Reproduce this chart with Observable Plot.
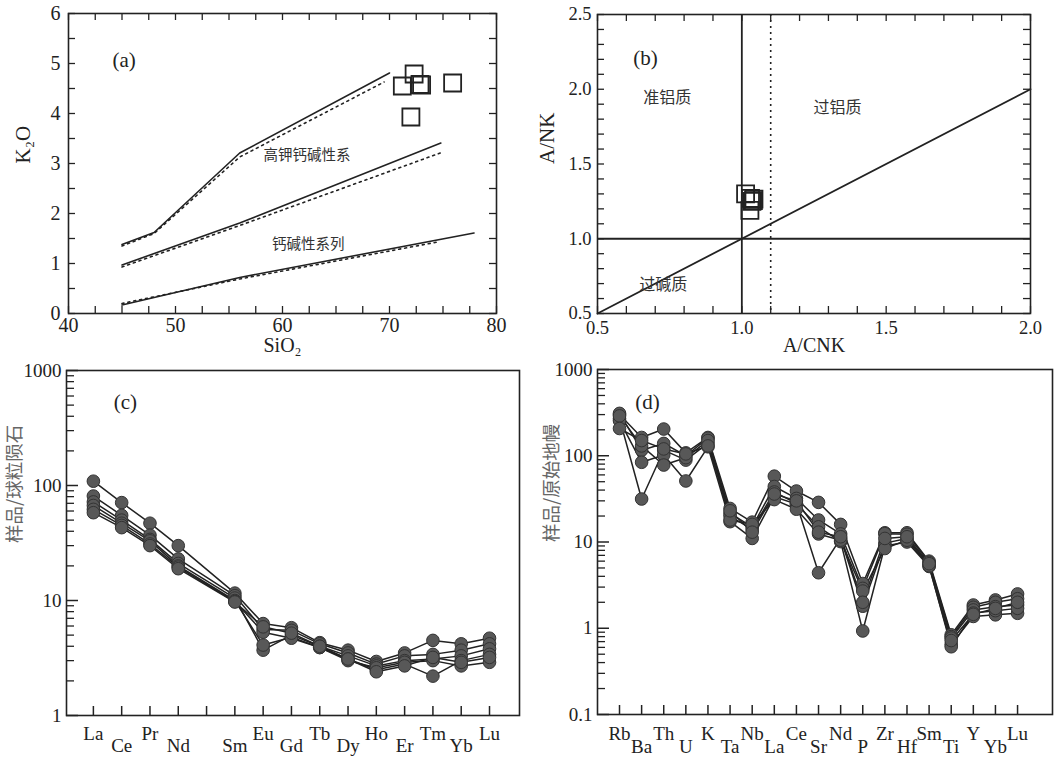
<!DOCTYPE html>
<html><head><meta charset="utf-8">
<script src="https://cdn.jsdelivr.net/npm/d3@7"></script>
<script src="https://cdn.jsdelivr.net/npm/@observablehq/plot@0.6"></script>
<style>
body{margin:0;background:#fff;}
#wrap{position:relative;width:1056px;height:757px;overflow:hidden;background:#fff;}
#wrap > svg{position:absolute;overflow:visible;}
</style></head><body><div id="wrap"></div>
<script>
// ---------- data ----------
// (a) SiO2 - K2O
const sampleSiO2 = [71.2, 72.3, 72.85, 73.0, 75.9, 72.0];
const sampleK2O  = [4.55, 4.79, 4.58, 4.57, 4.61, 3.93];
const hkSolid  = [[45,1.38],[48,1.62],[56,3.21],[70,4.81]];
const hkDotted = [[45,1.35],[48,1.60],[56,3.13],[69.5,4.63]];
const caSolid  = [[45,0.97],[56,1.81],[74.8,3.41]];
const caDotted = [[45,0.93],[56,1.76],[75,3.23]];
const lowSolid  = [[45,0.17],[56,0.72],[77.9,1.61]];
const lowDotted = [[45,0.20],[56,0.69],[74.5,1.43]];
// (b) A/CNK - A/NK
const sampleACNK = [1.013, 1.030, 1.035, 1.042, 1.040, 1.028];
const sampleANK  = [1.30, 1.27, 1.25, 1.265, 1.255, 1.19];
const diagLine = [[0.5,0.5],[2.0,2.0]];
// (c) REE chondrite-normalised
const reeAxis = ["La","Ce","Pr","Nd","Pm","Sm","Eu","Gd","Tb","Dy","Ho","Er","Tm","Yb","Lu"];
const reeElements = ["La","Ce","Pr","Nd","Sm","Eu","Gd","Tb","Dy","Ho","Er","Tm","Yb","Lu"];
const reeS1 = [109, 71, 47, 30, 11.6, 6.3, 5.8, 4.3, 3.7, 2.95, 3.5, 4.5, 4.2, 4.7];
const reeS2 = [81, 55, 37, 23, 11.0, 5.6, 5.5, 4.2, 3.5, 2.8, 3.3, 3.4, 3.7, 4.2];
const reeS3 = [72, 50, 34, 21, 10.5, 3.7, 5.0, 4.0, 3.3, 2.7, 3.0, 3.1, 3.3, 3.8];
const reeS4 = [67, 47, 33, 20, 10.0, 4.1, 4.8, 3.9, 3.1, 2.5, 2.8, 2.2, 3.0, 3.4];
const reeS5 = [62, 45, 31, 19.5, 9.8, 5.3, 4.7, 3.9, 3.0, 2.6, 2.9, 3.0, 2.7, 2.9];
const reeS6 = [58, 43, 30, 18.9, 9.7, 5.9, 5.2, 4.0, 3.1, 2.4, 2.7, 3.2, 2.9, 3.2];
// (d) primitive-mantle-normalised spidergram
const spiderElements = ["Rb","Ba","Th","U","K","Ta","Nb","La","Ce","Sr","Nd","P","Zr","Hf","Sm","Ti","Y","Yb","Lu"];
const spS1 = [300, 163, 204, 108, 163, 24.5, 17, 58, 39, 28.8, 16, 3.3, 12.8, 12.8, 6.0, 0.84, 1.86, 2.13, 2.5];
const spS2 = [310, 116, 139, 100, 160, 21.5, 15, 44, 32, 18, 12.4, 2.9, 12.5, 12.3, 5.8, 0.80, 1.75, 2.0, 2.2];
const spS3 = [270, 31.5, 116, 89, 140, 20, 14, 38, 28, 4.4, 11, 1.8, 9.7, 11, 5.5, 0.77, 1.63, 1.78, 1.86];
const spS4 = [255, 84, 102, 51, 127, 17.2, 11, 33.5, 27.5, 15, 10.1, 0.93, 9, 10, 5.2, 0.65, 1.37, 1.43, 1.49];
const spS5 = [290, 130, 78, 95, 150, 18, 16, 31, 24, 12.4, 10.5, 2.7, 8.4, 10.5, 5.3, 0.61, 1.5, 1.6, 1.7];
const spS6 = [207, 150, 120, 105, 130, 23, 13, 36, 30, 13, 11.5, 2.0, 11, 11.5, 5.6, 0.72, 1.45, 1.7, 2.0];

// ---------- helpers ----------
const FONT = '"Liberation Serif","Noto Sans CJK SC",serif';
const CJK = '"Noto Sans CJK SC","Liberation Serif",sans-serif';
const INK = "#222";
const wrap = document.getElementById("wrap");
function place(svg, left, top){ svg.style.left = left + "px"; svg.style.top = top + "px"; wrap.appendChild(svg); }
function tickBottom(vals, len, fh, sw=1.3){ return Plot.tickX(vals, {x: d => d, insetTop: fh - len, stroke: INK, strokeWidth: sw}); }
function tickTop(vals, len, fh, sw=1.3){ return Plot.tickX(vals, {x: d => d, insetBottom: fh - len, stroke: INK, strokeWidth: sw}); }
function tickLeft(vals, len, fw, sw=1.3){ return Plot.tickY(vals, {y: d => d, insetRight: fw - len, stroke: INK, strokeWidth: sw}); }
function tickRight(vals, len, fw, sw=1.3){ return Plot.tickY(vals, {y: d => d, insetLeft: fw - len, stroke: INK, strokeWidth: sw}); }
const styleBase = {fontFamily: FONT, fontSize: "19px", color: INK, background: "transparent", overflow: "visible"};
function logMinor(lo, hi){ const out=[]; for(let d=lo; d<hi; d*=10){ for(let k=2;k<=9;k++) out.push(+(k*d).toPrecision(3)); } return out; }
function longForm(elements, samples, axis){
  const rows = [];
  samples.forEach((s, si) => s.forEach((v, i) => rows.push({sample: si, el: elements[i], x: axis ? axis.indexOf(elements[i]) : i, v})));
  return rows;
}

// ---------- (a) ----------
{
  const W = 528, H = 362, mL = 68, mR = 32, mT = 13, mB = 49;
  const fw = W - mL - mR, fh = H - mT - mB;
  const pts = sampleSiO2.map((x, i) => ({x, y: sampleK2O[i]}));
  const xt = d3.range(40, 80.001, 2.5), yt = d3.range(0, 6.001, 0.5);
  const lineS = (d) => Plot.line(d, {x: p => p[0], y: p => p[1], stroke: INK, strokeWidth: 1.6});
  const lineD = (d) => Plot.line(d, {x: p => p[0], y: p => p[1], stroke: INK, strokeWidth: 1.6, strokeDasharray: "2,4"});
  const svg = Plot.plot({
    width: W, height: H, marginLeft: mL, marginRight: mR, marginTop: mT, marginBottom: mB,
    style: styleBase,
    x: {domain: [40, 80], label: null},
    y: {domain: [0, 6], label: null},
    marks: [
      lineS(hkSolid), lineD(hkDotted), lineS(caSolid), lineD(caDotted), lineS(lowSolid), lineD(lowDotted),
      Plot.dot(pts, {x: "x", y: "y", symbol: "square", r: 9.6, stroke: INK, strokeWidth: 1.8, fill: "none"}),
      tickBottom(xt, 7, fh), tickTop(xt, 7, fh), tickLeft(yt, 7, fw), tickRight(yt, 7, fw),
      Plot.axisX({ticks: [40,50,60,70,80], tickFormat: d3.format("d"), tickSize: 0, tickPadding: 4, fontSize: 20, label: null}),
      Plot.axisY({ticks: [0,1,2,3,4,5,6], tickFormat: d3.format("d"), tickSize: 0, tickPadding: 8, fontSize: 20, label: null}),
      Plot.text(["(a)"], {x: () => 45.2, y: () => 5.06, text: d => d, fontSize: 21}),
      Plot.text(["高钾钙碱性系"], {x: () => 62.3, y: () => 3.16, text: d => d, fontSize: 14.5, fontFamily: CJK, fill: "#333"}),
      Plot.text(["钙碱性系列"], {x: () => 62.4, y: () => 1.38, text: d => d, fontSize: 14.5, fontFamily: CJK, fill: "#333"}),
      Plot.text(["K₂O"], {frameAnchor: "left", text: d => d, rotate: -90, dx: -45, fontSize: 21}),
      Plot.text(["SiO₂"], {frameAnchor: "bottom", text: d => d, dy: 38, fontSize: 20}),
      Plot.frame({stroke: INK, strokeWidth: 1.6})
    ]
  });
  place(svg, 0, 0);
}

// ---------- (b) ----------
{
  const W = 528, H = 362, mL = 69, mR = 26, mT = 14, mB = 49;
  const fw = W - mL - mR, fh = H - mT - mB;
  const pts = sampleACNK.map((x, i) => ({x, y: sampleANK[i]}));
  const xt = d3.range(0.5, 2.0001, 0.1), yt = d3.range(0.5, 2.5001, 0.1);
  const svg = Plot.plot({
    width: W, height: H, marginLeft: mL, marginRight: mR, marginTop: mT, marginBottom: mB,
    style: styleBase,
    x: {domain: [0.5, 2.0], label: null},
    y: {domain: [0.5, 2.5], label: null},
    marks: [
      Plot.ruleX([1.0], {stroke: INK, strokeWidth: 1.8}),
      Plot.ruleY([1.0], {stroke: INK, strokeWidth: 1.8}),
      Plot.ruleX([1.1], {stroke: INK, strokeWidth: 1.6, strokeDasharray: "2,4"}),
      Plot.line(diagLine, {x: p => p[0], y: p => p[1], stroke: INK, strokeWidth: 1.8}),
      Plot.dot(pts, {x: "x", y: "y", symbol: "square", r: 9.6, stroke: INK, strokeWidth: 1.8, fill: "none"}),
      tickBottom(xt, 7, fh), tickTop(xt, 7, fh), tickLeft(yt, 7, fw), tickRight(yt, 7, fw),
      Plot.axisX({ticks: [0.5,1.0,1.5,2.0], tickFormat: d3.format(".1f"), tickSize: 0, tickPadding: 7, fontSize: 18.5, label: null}),
      Plot.axisY({ticks: [0.5,1.0,1.5,2.0,2.5], tickFormat: d3.format(".1f"), tickSize: 0, tickPadding: 6, fontSize: 18.5, label: null}),
      Plot.text(["(b)"], {x: () => 0.666, y: () => 2.206, text: d => d, fontSize: 21}),
      Plot.text(["准铝质"], {x: () => 0.742, y: () => 1.945, text: d => d, fontSize: 16, fontFamily: CJK, fill: "#333"}),
      Plot.text(["过铝质"], {x: () => 1.331, y: () => 1.878, text: d => d, fontSize: 16, fontFamily: CJK, fill: "#333"}),
      Plot.text(["过碱质"], {x: () => 0.728, y: () => 0.694, text: d => d, fontSize: 16, fontFamily: CJK, fill: "#333"}),
      Plot.text(["A/NK"], {frameAnchor: "left", text: d => d, rotate: -90, dx: -50, fontSize: 21}),
      Plot.text(["A/CNK"], {frameAnchor: "bottom", text: d => d, dy: 38, fontSize: 20}),
      Plot.frame({stroke: INK, strokeWidth: 1.6})
    ]
  });
  place(svg, 528, 0);
}

// ---------- (c) ----------
{
  const W = 528, H = 395, mL = 66, mR = 9, mT = 8, mB = 42;
  const fw = W - mL - mR, fh = H - mT - mB;
  const rows = longForm(reeElements, [reeS1, reeS2, reeS3, reeS4, reeS5, reeS6], reeAxis);
  const idx = reeAxis.map((_, i) => i);
  const up = idx.filter(i => i % 2 === 0 && reeAxis[i] !== "Pm");
  const down = idx.filter(i => i % 2 === 1 && reeAxis[i] !== "Pm");
  const svg = Plot.plot({
    width: W, height: H, marginLeft: mL, marginRight: mR, marginTop: mT, marginBottom: mB,
    style: styleBase,
    x: {type: "linear", domain: [-0.95, 15.06], label: null},
    y: {type: "log", domain: [1, 1000], label: null},
    marks: [
      Plot.line(rows, {x: "x", y: "v", z: "sample", stroke: INK, strokeWidth: 1.5}),
      Plot.dot(rows, {x: "x", y: "v", r: 6.3, fill: "#585858", stroke: "#333", strokeWidth: 1}),
      tickBottom(idx, 9, fh, 1.5),
      tickLeft([1, 10, 100, 1000], 12, fw, 1.5),
      tickLeft(logMinor(1, 1000), 8, fw, 1.3),
      Plot.axisX({ticks: up, tickFormat: i => reeAxis[i], tickSize: 0, tickPadding: 11, fontSize: 19, label: null}),
      Plot.axisX({ticks: down, tickFormat: i => reeAxis[i], tickSize: 0, tickPadding: 23, fontSize: 19, label: null}),
      Plot.axisY({ticks: [1, 10, 100, 1000], tickFormat: d => String(d), tickSize: 0, tickPadding: 5, fontSize: 19, label: null}),
      Plot.text(["(c)"], {x: () => 1.13, y: () => 526, text: d => d, fontSize: 21}),
      Plot.text(["样品/球粒陨石"], {frameAnchor: "left", text: d => d, rotate: -90, dx: -51, fontSize: 18.5, fontFamily: CJK, fill: "#666"}),
      Plot.frame({stroke: INK, strokeWidth: 1.6})
    ]
  });
  place(svg, 0, 362);
}

// ---------- (d) ----------
{
  const W = 528, H = 395, mL = 69, mR = 4, mT = 7, mB = 43;
  const fw = W - mL - mR, fh = H - mT - mB;
  const rows = longForm(spiderElements, [spS1, spS2, spS3, spS4, spS5, spS6]);
  const idx = spiderElements.map((_, i) => i);
  const up = idx.filter(i => i % 2 === 0);
  const down = idx.filter(i => i % 2 === 1);
  const svg = Plot.plot({
    width: W, height: H, marginLeft: mL, marginRight: mR, marginTop: mT, marginBottom: mB,
    style: styleBase,
    x: {type: "linear", domain: [-0.995, 19.58], label: null},
    y: {type: "log", domain: [0.1, 1000], label: null},
    marks: [
      Plot.line(rows, {x: "x", y: "v", z: "sample", stroke: INK, strokeWidth: 1.5}),
      Plot.dot(rows, {x: "x", y: "v", r: 6.3, fill: "#585858", stroke: "#333", strokeWidth: 1}),
      tickBottom(idx, 9, fh, 1.5),
      tickLeft([0.1, 1, 10, 100, 1000], 12, fw, 1.5),
      tickLeft(logMinor(0.1, 1000), 8, fw, 1.3),
      Plot.axisX({ticks: up, tickFormat: i => spiderElements[i], tickSize: 0, tickPadding: 12, fontSize: 19, label: null}),
      Plot.axisX({ticks: down, tickFormat: i => spiderElements[i], tickSize: 0, tickPadding: 25, fontSize: 19, label: null}),
      Plot.axisY({ticks: [0.1, 1, 10, 100, 1000], tickFormat: d => String(d), tickSize: 0, tickPadding: 5, fontSize: 19, label: null}),
      Plot.text(["(d)"], {x: () => 1.27, y: () => 414, text: d => d, fontSize: 21}),
      Plot.text(["样品/原始地幔"], {frameAnchor: "left", text: d => d, rotate: -90, dx: -45, fontSize: 18.5, fontFamily: CJK, fill: "#666"}),
      Plot.frame({stroke: INK, strokeWidth: 1.6})
    ]
  });
  place(svg, 528, 362);
}
</script>
</body></html>
